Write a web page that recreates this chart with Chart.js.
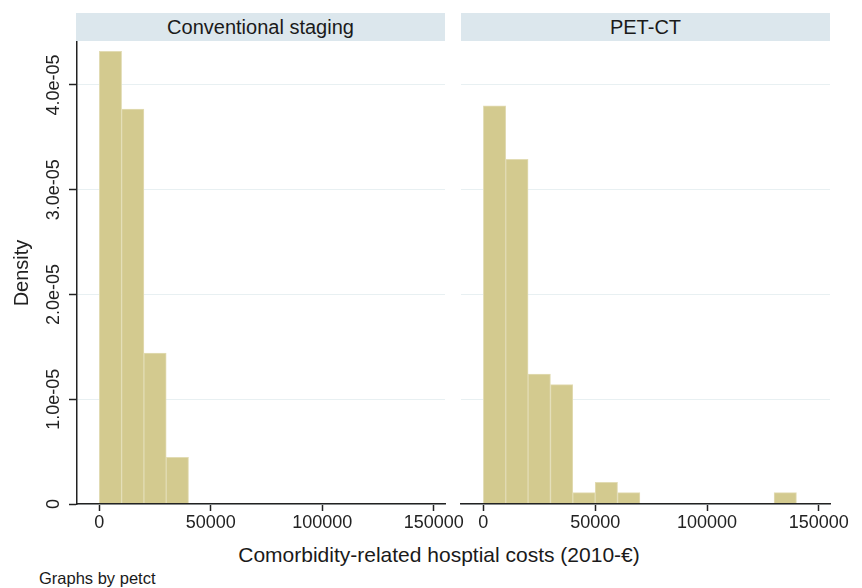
<!DOCTYPE html>
<html>
<head>
<meta charset="utf-8">
<script src="https://cdn.jsdelivr.net/npm/chart.js@4.4.1/dist/chart.umd.min.js"></script>
<style>
  html, body { margin: 0; padding: 0; background: #ffffff; }
  body { width: 862px; height: 588px; position: relative; overflow: hidden;
         font-family: "Liberation Sans", Arial, Helvetica, sans-serif; color: #1a1a1a; }
  canvas { position: absolute; top: 0; }
  .strip { position: absolute; top: 13px; height: 28px; line-height: 28px; width: 369px;
           background: rgb(220, 231, 237); text-align: center; font-size: 20px; }
  .note { position: absolute; white-space: nowrap; }
</style>
</head>
<body>
<div class="strip" id="stripA" style="left:76px;"></div>
<div class="strip" id="stripB" style="left:461px;"></div>
<canvas id="panelA" width="475" height="540" style="left:0px;"></canvas>
<canvas id="panelB" width="407" height="540" style="left:455px;"></canvas>
<div class="note" id="xTitle" style="left:139px; width:600px; top:543px; font-size:21px; line-height:24px; text-align:center;"></div>
<div class="note" id="byNote" style="left:39px; top:568px; font-size:16.5px; line-height:20px;"></div>
<script>
// Histogram bins (lower edge of each bin, euros) and density per group
const binWidth = 10000;
const binStartsConventional = [0, 10000, 20000, 30000];
const densityConventional = [4.32e-5, 3.77e-5, 1.44e-5, 0.446e-5];
const binStartsPetct = [0, 10000, 20000, 30000, 40000, 50000, 60000, 130000];
const densityPetct = [3.80e-5, 3.29e-5, 1.24e-5, 1.14e-5, 0.108e-5, 0.207e-5, 0.108e-5, 0.108e-5];

const panelTitles = ['Conventional staging', 'PET-CT'];
const xTickValues = [0, 50000, 100000, 150000];
const yTickValues = [0, 1e-5, 2e-5, 3e-5, 4e-5];
const xTitleText = 'Comorbidity-related hosptial costs (2010-€)';
const yTitleText = 'Density';
const byNoteText = 'Graphs by petct';

document.getElementById('stripA').textContent = panelTitles[0];
document.getElementById('stripB').textContent = panelTitles[1];
document.getElementById('xTitle').textContent = xTitleText;
document.getElementById('byNote').textContent = byNoteText;

const FONT = '"Liberation Sans", Arial, Helvetica, sans-serif';
const INK = '#222222';
const BAR_FILL = 'rgb(211, 202, 143)';
const BAR_EDGE = 'rgb(226, 220, 180)';
const GRID = 'rgb(232, 240, 242)';
const X_MIN = -10000, X_MAX = 155000, Y_MAX = 4.41e-5;
const TICK_FONT = 18;

// Stata-style "4.0e-05" tick labels
function sciLabel(v) {
  if (v === 0) return '0';
  const [m, e] = v.toExponential(1).split('e');
  const n = Math.abs(parseInt(e, 10));
  return m + 'e' + (parseInt(e, 10) < 0 ? '-' : '+') + String(n).padStart(2, '0');
}

// Width of the widest y label, so rotated labels can be centred where wanted
const mctx = document.createElement('canvas').getContext('2d');
mctx.font = TICK_FONT + 'px ' + FONT;
const widestY = Math.max(...yTickValues.map(v => mctx.measureText(sciLabel(v)).width));
const Y_AXIS_WIDTH = 77;
const Y_TICK_LEN = 8;
const yLabelCentre = 54;
const yLabelPadding = (Y_AXIS_WIDTH - Y_TICK_LEN - yLabelCentre) - widestY / 2;

function histogramPoints(starts, dens) {
  return starts.map((s, i) => ({ x: s + binWidth / 2, y: dens[i] }));
}

function makePanel(canvasId, starts, dens, withYAxis, padding) {
  const xAxis = {
    type: 'linear',
    min: X_MIN, max: X_MAX,
    offset: false,
    afterBuildTicks: s => { s.ticks = xTickValues.map(v => ({ value: v })); },
    afterFit: s => { s.height = 36; },
    ticks: { color: INK, font: { size: TICK_FONT, family: FONT }, padding: 1,
             maxRotation: 0, autoSkip: false, callback: v => String(v) },
    grid: { offset: false, drawOnChartArea: false, drawTicks: true, tickLength: 7,
            tickColor: INK, tickWidth: 1.5 },
    border: { display: true, color: INK, width: 1.5, z: 1 }
  };
  const yAxis = {
    type: 'linear',
    min: 0, max: Y_MAX,
    afterBuildTicks: s => { s.ticks = yTickValues.map(v => ({ value: v })); },
    grid: { color: GRID, lineWidth: 1, drawTicks: withYAxis, tickLength: Y_TICK_LEN,
            tickColor: INK, tickWidth: 1.5 }
  };
  if (withYAxis) {
    Object.assign(yAxis, {
      afterFit: s => { s.width = Y_AXIS_WIDTH; },
      ticks: { color: INK, font: { size: TICK_FONT, family: FONT }, padding: yLabelPadding,
               minRotation: 90, maxRotation: 90, crossAlign: 'center', callback: v => sciLabel(v) },
      border: { display: true, color: INK, width: 1.5, z: 1 },
      title: { display: true, text: yTitleText, color: INK,
               font: { size: 20, family: FONT }, padding: { top: 10, bottom: 0 } }
    });
  } else {
    Object.assign(yAxis, {
      afterFit: s => { s.width = 0; },
      ticks: { display: false },
      border: { display: false }
    });
  }
  return new Chart(document.getElementById(canvasId), {
    type: 'bar',
    data: {
      datasets: [{
        data: histogramPoints(starts, dens),
        backgroundColor: BAR_FILL,
        borderColor: BAR_EDGE,
        borderWidth: 1,
        barPercentage: 1,
        categoryPercentage: 1
      }]
    },
    options: {
      responsive: false,
      devicePixelRatio: 1,
      animation: false,
      layout: { padding: padding },
      plugins: { legend: { display: false }, tooltip: { enabled: false } },
      scales: { x: xAxis, y: yAxis }
    }
  });
}

makePanel('panelA', binStartsConventional, densityConventional, true,
          { top: 42, left: 0, right: 30, bottom: 0 });
makePanel('panelB', binStartsPetct, densityPetct, false,
          { top: 42, left: 6, right: 32, bottom: 0 });
</script>
</body>
</html>
